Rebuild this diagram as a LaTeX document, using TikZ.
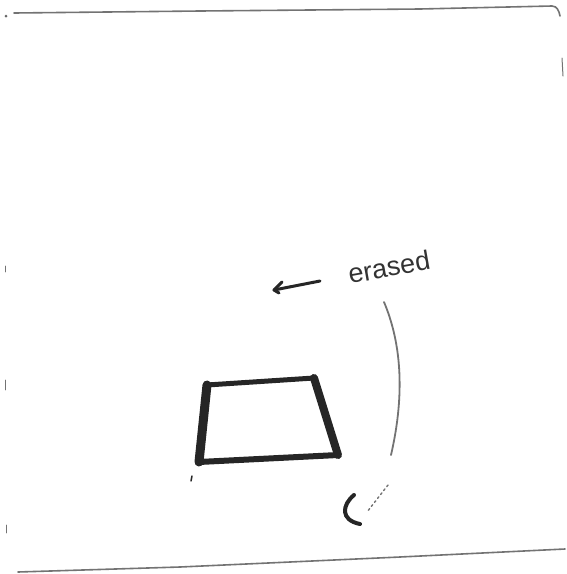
\documentclass[tikz,border=0pt]{standalone}
\usepackage{fontspec}
\setmainfont{Liberation Sans}
\begin{document}
\begin{tikzpicture}[x=1pt,y=-1pt,
  pen/.style={line cap=round,line join=round,draw=black!85},
  faint/.style={line cap=round,draw=black!55,line width=1.6pt},
  thick pen/.style={pen,line width=7pt},
  label text/.style={font=\fontsize{27}{30}\selectfont,text=black!80,inner sep=0pt}]
\useasboundingbox (0,0) rectangle (567,574);
% frame strokes
\draw[faint] (14,13) -- (200,11) -- (420,9) -- (552,6) to[out=0,in=100] (560,16);
\draw[faint,line width=1pt] (562,58) -- (563,76);
\draw[faint] (18,572) -- (180,567) -- (400,557) -- (565,549);
\draw[faint,line width=0.8pt] (5,266) -- (5,272);
\draw[faint,line width=0.8pt] (5,380) -- (5,390);
\draw[faint,line width=0.8pt] (6,525) -- (6,533);
\fill[black!60] (6,16) circle (1.5);
% trapezoid
\coordinate (tl) at (207,385);
\coordinate (tr) at (314,378);
\coordinate (br) at (338,455);
\coordinate (bl) at (199,462);
\draw[pen,line width=5pt] (tl) -- (tr);
\draw[pen,line width=6pt] (bl) -- (br);
\draw[thick pen,line width=9pt] (tl) -- (bl);
\draw[thick pen,line width=8pt] (tr) -- (br);
\draw[pen,line width=1.5pt] (192,476) -- (191,481);
% label and arrow
\node[label text,rotate=10] (lbl) at (389,267) {erased};
\coordinate (arrowstart) at (320,281);
\coordinate (arrowend) at (274,290);
\draw[pen,line width=3pt] (arrowstart) -- (arrowend);
\draw[pen,line width=3pt] (282,282) -- (arrowend) -- (279,293);
% curved line
\coordinate (c1) at (384,302);
\coordinate (c2) at (391,455);
\draw[faint,line width=1.8pt] (c1) .. controls (400,340) and (406,390) .. (c2);
\draw[faint,line width=1.4pt,dash pattern=on 2pt off 3pt] (388,485) -- (367,512);
% C stroke
\draw[pen,line width=4pt] (354,495) .. controls (342,505) and (340,520) .. (360,524);
\end{tikzpicture}
\end{document}
